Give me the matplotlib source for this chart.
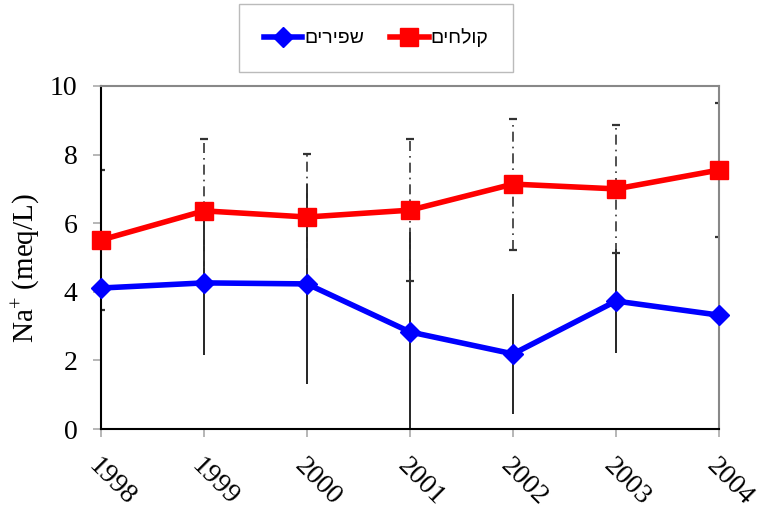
import matplotlib
matplotlib.use('Agg')
from matplotlib import pyplot as plt
import numpy as np

# Na+ concentrations per year, two water sources
years = ['1998', '1999', '2000', '2001', '2002', '2003', '2004']
label_fresh = 'שפירים'
label_treated = 'קולחים'
na_fresh = [4.11, 4.26, 4.23, 2.83, 2.19, 3.73, 3.32]
err_fresh = [0.7, 2.1, 2.92, 2.9, 1.76, 1.51, 3.3]
na_treated = [5.51, 6.36, 6.18, 6.38, 7.14, 7.0, 7.55]
err_treated = [2.04, 2.09, 1.84, 2.07, 1.91, 1.86, 1.95]


def rtl(s):
    # matplotlib has no bidi support, so hebrew is fed in visual order
    return s[::-1]


serif = 'Liberation Serif'
plt.rcParams['mathtext.fontset'] = 'custom'
plt.rcParams['mathtext.rm'] = serif
plt.rcParams['mathtext.it'] = serif + ':italic'

x = np.arange(len(years))

fig = plt.figure(figsize=(7.74, 5.13), dpi=100)
ax = fig.add_axes([0.1305, 0.1637, 0.7985, 0.6687])

# error bars first so the lines sit on top of them
eb_f = ax.errorbar(x, na_fresh, yerr=err_fresh, fmt='none', ecolor='black',
                   elinewidth=1.2, capsize=0, zorder=1)
eb_t = ax.errorbar(x, na_treated, yerr=err_treated, fmt='none', ecolor='#333333',
                   elinewidth=1.2, capsize=3, capthick=1.6, zorder=1)
eb_t[2][0].set_linestyle((0, (6, 3, 1, 3)))

ax.plot(x, na_fresh, color='#0000ff', lw=4, marker='D', ms=10,
        label=rtl(label_fresh), zorder=3, clip_on=False)
ax.plot(x, na_treated, color='#ff0000', lw=4, marker='s', ms=13,
        label=rtl(label_treated), zorder=3, clip_on=False)

ax.set_xlim(0, len(years) - 1)
ax.set_ylim(0, 10)
ax.set_yticks(np.arange(0, 11, 2))
ax.set_xticks(x)
ax.set_xticklabels(years)

for lbl in ax.get_yticklabels():
    lbl.set_fontfamily(serif)
    lbl.set_fontsize(20)
for lbl in ax.get_xticklabels():
    lbl.set_fontfamily(serif)
    lbl.set_fontsize(20)
    lbl.set_rotation(-45)
    lbl.set_ha('left')
    lbl.set_va('top')
    lbl.set_rotation_mode('anchor')

ax.tick_params(axis='both', direction='out', length=6, width=1.2,
               color='#aaaaaa', labelcolor='black')
ax.tick_params(axis='x', pad=12)
ax.tick_params(axis='y', pad=11)

for side in ('left', 'bottom'):
    ax.spines[side].set_color('black')
    ax.spines[side].set_linewidth(1.5)
for side in ('top', 'right'):
    ax.spines[side].set_color('#888888')
    ax.spines[side].set_linewidth(1.5)

ax.set_ylabel(r'Na$^{+}$ (meq/L)', fontfamily=serif, fontsize=21)
ax.yaxis.set_label_coords(-0.095, 0.47)

leg = fig.legend(loc='center', bbox_to_anchor=(376 / 774, 1 - 38 / 513),
                 ncol=2, frameon=True, fancybox=False, edgecolor='#aaaaaa',
                 prop={'family': 'Liberation Sans', 'size': 14},
                 borderpad=1.25, handlelength=2.0, handletextpad=0.1,
                 columnspacing=1.3)
leg.get_frame().set_linewidth(1.0)

fig.savefig('out.png', dpi=100)
